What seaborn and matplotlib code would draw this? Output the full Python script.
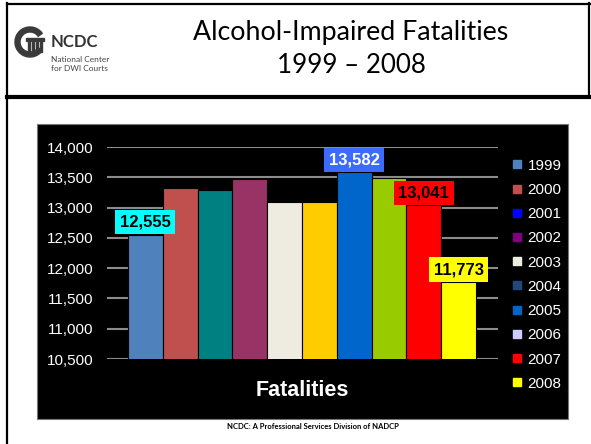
import numpy as np
import pandas as pd
import seaborn as sns
import matplotlib.pyplot as plt
from matplotlib.patches import Rectangle, Wedge
from matplotlib.lines import Line2D

years = ['1999', '2000', '2001', '2002', '2003', '2004', '2005', '2006', '2007', '2008']
fatalities = [12555, 13324, 13290, 13472, 13096, 13099, 13582, 13491, 13041, 11773]

bar_colors = ['#4F81BD', '#C0504D', '#008080', '#993366', '#EEECE1',
              '#FFCC00', '#0066CC', '#99CC00', '#FF0000', '#FFFF00']
# the legend in the original slide does not match the bars
legend_colors = ['#4F81BD', '#C0504D', '#0000FF', '#800080', '#EEECE1',
                 '#1F497D', '#0066CC', '#CCCCFF', '#FF0000', '#FFFF00']

labeled_years = ['1999', '2005', '2007', '2008']
label_box_colors = ['#00FFFF', '#3D6BFF', '#FF0000', '#FFFF00']
label_text_colors = ['black', 'white', 'black', 'black']

y_ticks = [10500, 11000, 11500, 12000, 12500, 13000, 13500, 14000]

plt.rcParams['font.family'] = ['Liberation Sans', 'DejaVu Sans']

W, H = 591, 444


def fx(px):
    return px / W


def fy(py):
    return 1 - py / H


fig = plt.figure(figsize=(W / 100, H / 100), dpi=100)
fig.patch.set_facecolor('white')

# slide frame
fig.add_artist(Line2D([fx(7), fx(7)], [fy(3), fy(444)], color='black', lw=1.6))
fig.add_artist(Line2D([fx(7), fx(591)], [fy(4), fy(4)], color='black', lw=1.6))
fig.add_artist(Line2D([fx(589), fx(589)], [fy(3), fy(97)], color='black', lw=1.6))
fig.add_artist(Line2D([fx(7), fx(591)], [fy(97), fy(97)], color='black', lw=3.0))

# title
fig.text(fx(351), fy(40), 'Alcohol-Impaired Fatalities', ha='center', va='baseline',
         fontsize=19.3, family='Lato')
fig.text(fx(351), fy(73), '1999 \u2013 2008', ha='center', va='baseline',
         fontsize=18.7, family='Lato')

# logo
logo = fig.add_axes([fx(13), fy(58), 36 / W, 32 / H])
logo.set_xlim(0, 36)
logo.set_ylim(0, 32)
logo.set_aspect('equal')
logo.axis('off')
logo.add_patch(Wedge((17, 16), 15, 35, 325, width=5, color='#3a3a3a'))
logo.add_patch(Rectangle((13, 17), 18, 3, color='#3a3a3a'))
for cx in [15, 19, 23, 27]:
    logo.add_patch(Rectangle((cx, 6), 1.8, 10, color='#3a3a3a'))
fig.text(fx(51), fy(47), 'NCDC', fontsize=12, fontweight='bold', family='Lato',
         color='#333333', va='baseline')
fig.text(fx(51), fy(62), 'National Center', fontsize=6, family='Lato',
         color='#444444', va='baseline')
fig.text(fx(51), fy(71), 'for DWI Courts', fontsize=6, family='Lato',
         color='#444444', va='baseline')

# black chart panel
fig.add_artist(Rectangle((fx(37), fy(419)), (568 - 37) / W, (419 - 124) / H,
                         transform=fig.transFigure, facecolor='black',
                         edgecolor='#777777', lw=0.8, zorder=-1))

ax = fig.add_axes([fx(107), fy(359), (498 - 107) / W, (359 - 147) / H])
ax.set_facecolor('black')

df = pd.DataFrame({'year': years, 'fatalities': fatalities})
sns.barplot(data=df, x='year', y='fatalities', hue='year', palette=bar_colors,
            saturation=1, width=1.0, edgecolor='black', linewidth=0.8,
            errorbar=None, legend=False, ax=ax)

ax.set_ylim(10500, 14000)
ax.set_xlim(-1.1, 10.13)
ax.set_yticks(y_ticks)
ax.set_yticklabels([f'{v:,}' for v in y_ticks])
ax.set_xticks([])
ax.tick_params(axis='y', colors='white', labelsize=11, length=0, pad=10)
for s in ax.spines.values():
    s.set_visible(False)
ax.yaxis.grid(True, color='#8c8c8c', lw=1.5)
ax.set_axisbelow(True)
ax.set_ylabel('')
ax.set_xlabel('Fatalities', color='white', fontsize=15.5, fontweight='bold')
ax.xaxis.set_label_coords(0.5, -0.1)

for year, bc, tc in zip(labeled_years, label_box_colors, label_text_colors):
    i = years.index(year)
    v = fatalities[i]
    ax.annotate(f'{v:,}', xy=(i, v), xytext=(0, 3.5), textcoords='offset points',
                ha='center', va='bottom', fontsize=12, fontweight='bold', color=tc,
                bbox=dict(boxstyle='square,pad=0.28', fc=bc, ec='none'),
                annotation_clip=False)

handles = [Line2D([0], [0], marker='s', linestyle='', markersize=6,
                  markerfacecolor=c, markeredgecolor=c) for c in legend_colors]
fig.legend(handles, years, loc='upper left', bbox_to_anchor=(fx(503), fy(151)),
           frameon=False, labelcolor='white', fontsize=11, handlelength=0.8,
           handletextpad=0.3, labelspacing=0.67, borderpad=0)

fig.text(fx(313), fy(426), 'NCDC: A Professional Services Division of NADCP',
         fontsize=5.5, fontweight='bold', family='Lato', ha='center', va='center')

fig.savefig('out.png', dpi=100)
